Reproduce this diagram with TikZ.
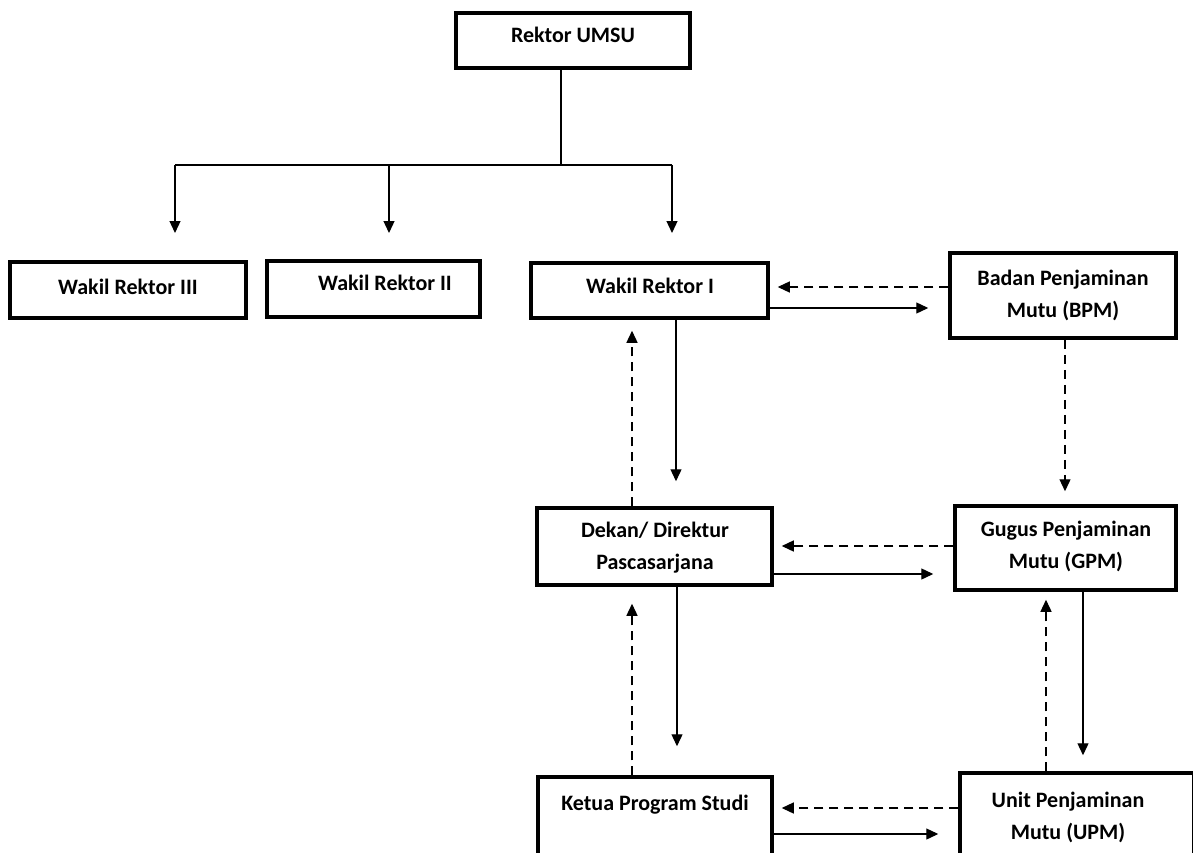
\documentclass[tikz,border=0pt]{standalone}
\usepackage{fontspec}
\setmainfont{Carlito}
\usetikzlibrary{arrows.meta}
\begin{document}
\begin{tikzpicture}[x=1pt,y=-1pt,
  box/.style={draw, line width=3.5pt, rectangle, inner sep=0pt},
  lbl/.style={font=\bfseries\fontsize{22}{32}\selectfont, align=center, inner sep=0pt},
  conn/.style={line width=1.3pt},
  arr/.style={conn, -{Triangle[width=11pt,length=12pt]}},
  darr/.style={arr, dash pattern=on 9pt off 6pt},
]
\clip (0,0) rectangle (1193,853);
\useasboundingbox (0,0) rectangle (1193,853);
\fill[white] (0,0) rectangle (1193,853);

% boxes
\node[box, minimum width=234pt, minimum height=55pt] (rektor) at (573,40.5) {};
\node[box, minimum width=236pt, minimum height=56pt] (wr3) at (128,290) {};
\node[box, minimum width=213pt, minimum height=56pt] (wr2) at (373.5,289) {};
\node[box, minimum width=237pt, minimum height=55pt] (wr1) at (649.5,290.5) {};
\node[box, minimum width=226pt, minimum height=85pt] (bpm) at (1063,295.5) {};
\node[box, minimum width=235pt, minimum height=77pt] (dekan) at (654.5,546.5) {};
\node[box, minimum width=221pt, minimum height=84pt] (gpm) at (1065.5,548) {};
\node[box, minimum width=234pt, minimum height=123pt] (ketua) at (655,838.5) {};
\node[box, minimum width=234pt, minimum height=127pt] (upm) at (1077,836.5) {};

% texts
\node[lbl] (rektorT) at (573,35) {Rektor UMSU};
\node[lbl] (wr3T) at (128,287) {Wakil Rektor III};
\node[lbl] (wr2T) at (385,283) {Wakil Rektor II};
\node[lbl] (wr1T) at (650,286) {Wakil Rektor I};
\node[lbl] (bpmT) at (1063,295.5) {Badan Penjaminan\\Mutu (BPM)};
\node[lbl] (dekanT) at (655,548) {Dekan/ Direktur\\Pascasarjana};
\node[lbl] (gpmT) at (1066,546.5) {Gugus Penjaminan\\Mutu (GPM)};
\node[lbl] (ketuaT) at (655,805) {Ketua Program Studi};
\node[lbl] (upmT) at (1068,817) {Unit Penjaminan\\Mutu (UPM)};

% tree from Rektor
\coordinate (hub) at (561,165);
\coordinate (hL) at (175,165);
\coordinate (hM) at (389,165);
\coordinate (hR) at (672,165);
\coordinate (t3) at (175,233);
\coordinate (t2) at (389,233);
\coordinate (t1) at (672,233);
\draw[conn] (rektor.south -| hub) -- (hub);
\draw[conn] (hL) -- (hR);
\draw[arr] (hL) -- (t3);
\draw[arr] (hM) -- (t2);
\draw[arr] (hR) -- (t1);

% row 1
\draw[darr, shorten >=8pt] (bpm.west |- 0,287) -- (wr1.east |- 0,287);
\draw[arr, shorten >=20pt] (wr1.east |- 0,308) -- (bpm.west |- 0,308);
% row 2
\draw[darr, shorten >=8pt] (gpm.west |- 0,546) -- (dekan.east |- 0,546);
\draw[arr, shorten >=20pt] (dekan.east |- 0,574) -- (gpm.west |- 0,574);
% row 3
\draw[darr, shorten >=8pt] (upm.west |- 0,808) -- (ketua.east |- 0,808);
\draw[arr, shorten >=20pt] (ketua.east |- 0,834) -- (upm.west |- 0,834);

% verticals, left column
\draw[arr, shorten >=25pt] (wr1.south -| 676,0) -- (dekan.north -| 676,0);
\draw[darr, shorten >=11pt] (dekan.north -| 632,0) -- (wr1.south -| 632,0);
\draw[arr, shorten >=29pt] (dekan.south -| 677,0) -- (ketua.north -| 677,0);
\draw[darr, shorten >=17pt] (ketua.north -| 632,0) -- (dekan.south -| 632,0);

% verticals, right column
\draw[darr, shorten >=13pt] (bpm.south -| 1065,0) -- (gpm.north -| 1065,0);
\draw[arr, shorten >=16pt] (gpm.south -| 1083,0) -- (upm.north -| 1083,0);
\draw[darr, shorten >=8pt] (upm.north -| 1046,0) -- (gpm.south -| 1046,0);
\end{tikzpicture}
\end{document}
